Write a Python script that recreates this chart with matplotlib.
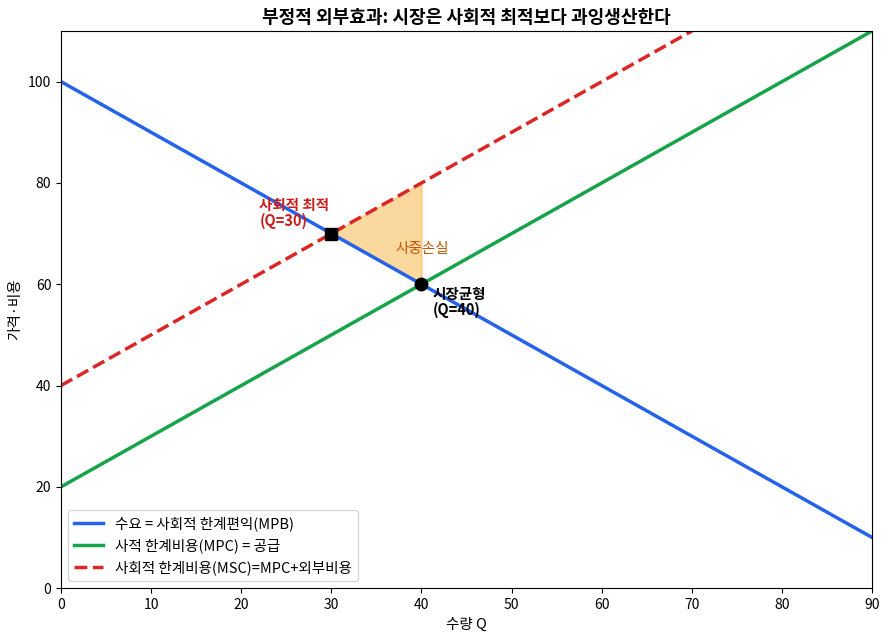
import matplotlib
matplotlib.use("Agg")
import matplotlib.pyplot as plt
import numpy as np

plt.rcParams['font.family'] = ['Noto Sans CJK KR', 'DejaVu Sans']
plt.rcParams['axes.unicode_minus'] = False

q = np.array([0, 90])
demand = np.array([100, 10])        # MPB
mpc = np.array([20, 110])           # supply
msc = np.array([40, 130])           # MPC + external cost
dwl_q = np.array([30, 40])
dwl_top = np.array([70, 80])
dwl_bot = np.array([70, 60])
opt_q, opt_p = 30, 70
mkt_q, mkt_p = 40, 60

fig = plt.figure(figsize=(8.89, 6.4), dpi=100)
ax = fig.add_axes([0.0686, 0.081, 0.9124, 0.8706])

ax.plot(q, demand, color='#2563eb', lw=2.5, label='수요 = 사회적 한계편익(MPB)')
ax.plot(q, mpc, color='#16a34a', lw=2.5, label='사적 한계비용(MPC) = 공급')
ax.plot(q, msc, color='#dc2626', lw=2.5, ls='--', label='사회적 한계비용(MSC)=MPC+외부비용')
ax.fill_between(dwl_q, dwl_bot, dwl_top, color='#f59e0b', alpha=0.4, lw=1)

ax.plot([opt_q], [opt_p], marker='s', color='black', markersize=9, zorder=5)
ax.plot([mkt_q], [mkt_p], marker='o', color='black', markersize=9, zorder=5)

ax.text(22, 74, '사회적 최적\n(Q=30)', color='#c81e1e', fontweight='bold', fontsize=10.5,
        ha='left', va='center', linespacing=1.0)
ax.text(40.1, 67, '사중손실', color='#c2570c', fontsize=10.5, ha='center', va='center')
ax.text(41.2, 56.5, '시장균형\n(Q=40)', color='black', fontweight='bold', fontsize=10.5,
        ha='left', va='center', linespacing=1.0)

ax.set_xlim(0, 90)
ax.set_ylim(0, 110)
ax.set_xlabel('수량 Q', fontsize=10.5)
ax.set_ylabel('가격·비용', fontsize=10.5)
ax.set_title('부정적 외부효과: 시장은 사회적 최적보다 과잉생산한다', fontweight='bold', fontsize=13)
ax.legend(loc='lower left', fontsize=10.5)

fig.savefig('out.png', dpi=100)
